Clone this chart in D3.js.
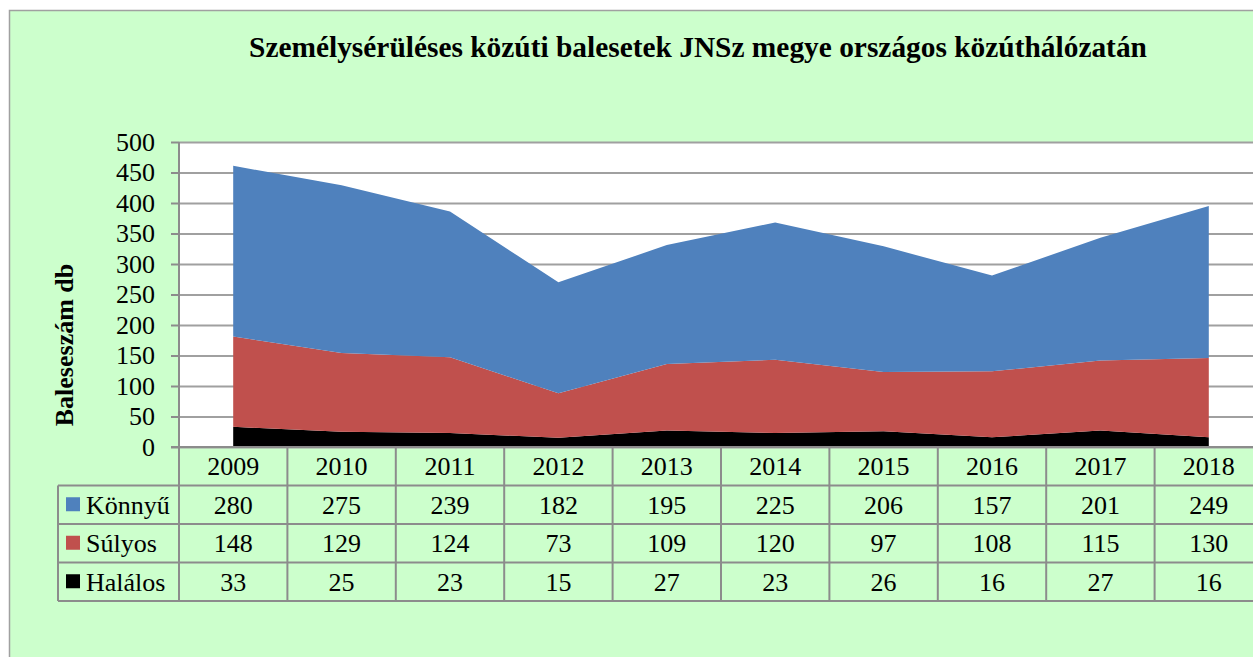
<!DOCTYPE html>
<html>
<head>
<meta charset="utf-8">
<script src="https://cdn.jsdelivr.net/npm/d3@7"></script>
<style>
  body { margin: 0; background: #ffffff; }
  svg text { font-family: "Liberation Serif", "Times New Roman", serif; }
</style>
</head>
<body>
<svg id="chart"></svg>
<script>
// data
var years = ["2009", "2010", "2011", "2012", "2013", "2014", "2015", "2016", "2017", "2018"];
var konnyu = [280, 275, 239, 182, 195, 225, 206, 157, 201, 249];
var sulyos = [148, 129, 124, 73, 109, 120, 97, 108, 115, 130];
var halalos = [33, 25, 23, 15, 27, 23, 26, 16, 27, 16];
var seriesNames = ["Könnyű", "Súlyos", "Halálos"];
var yTicks = [0, 50, 100, 150, 200, 250, 300, 350, 400, 450, 500];

var titleText = "Személysérüléses közúti balesetek JNSz megye országos közúthálózatán";
var yTitle = "Baleseszám db";

//sizes in one place so they are easy to tweak
var screen = {width: 1253, height: 657}
var plot = {left: 179, top: 142, bottom: 447, colW: 108.4}
var rowH = 38.5
var legendLeft = 58
var colors = {"Könnyű": "#4F81BD", "Súlyos": "#C0504D", "Halálos": "#000000"}
var lineCol = "#8C8C8C"
var serif = "'Liberation Serif', 'Times New Roman', serif"

var svg = d3.select("#chart")
    .attr("width", screen.width)
    .attr("height", screen.height)

// frame
svg.append("rect")
    .attr("x", 9.5).attr("y", 10.5)
    .attr("width", 1300).attr("height", 700)
    .attr("fill", "#CCFFCC")
    .attr("stroke", "#A0A0A0")
    .attr("stroke-width", 1.5)

var plotRight = plot.left + years.length * plot.colW

var xScale = d3.scaleBand()
    .domain(years)
    .range([plot.left, plotRight])

var yScale = d3.scaleLinear()
    .domain([0, 500])
    .range([plot.bottom, plot.top])

// white plot area
svg.append("rect")
    .attr("x", plot.left).attr("y", plot.top)
    .attr("width", plotRight - plot.left)
    .attr("height", plot.bottom - plot.top)
    .attr("fill", "#ffffff")

// gridlines
var grid = svg.append("g")
    .attr("transform", "translate(" + plot.left + ",0)")
    .call(d3.axisLeft(yScale).tickValues(yTicks).tickSize(-(plotRight - plot.left)).tickFormat(""))
grid.select(".domain").remove()
grid.selectAll("line").attr("stroke", "#A0A0A0").attr("stroke-width", 2)

// stacked areas
var table = years.map(function(y, i) {
    return {year: y, "Könnyű": konnyu[i], "Súlyos": sulyos[i], "Halálos": halalos[i]}
})
var stack = d3.stack().keys(["Halálos", "Súlyos", "Könnyű"])
var layers = stack(table)

var area = d3.area()
    .x(function(d) { return xScale(d.data.year) + xScale.bandwidth() / 2 })
    .y0(function(d) { return yScale(d[0]) })
    .y1(function(d) { return yScale(d[1]) })

svg.append("g").selectAll("path")
    .data(layers)
    .enter()
    .append("path")
    .attr("d", area)
    .attr("fill", function(l) { return colors[l.key] })

// y axis: tick marks and labels
var yAxis = svg.append("g")
    .attr("transform", "translate(" + plot.left + ",0)")
    .call(d3.axisLeft(yScale).tickValues(yTicks).tickSize(8).tickPadding(16))
yAxis.attr("font-family", serif).attr("font-size", 26)
yAxis.select(".domain").remove()
yAxis.selectAll("line").attr("stroke", lineCol).attr("stroke-width", 2)
yAxis.selectAll("text")
    .attr("font-family", serif)
    .attr("font-size", 26)
    .attr("fill", "#000")

// y axis line
svg.append("line")
    .attr("x1", plot.left).attr("x2", plot.left)
    .attr("y1", plot.top).attr("y2", plot.bottom + 4 * rowH)
    .attr("stroke", lineCol).attr("stroke-width", 2)

// data table lines
var tableBottom = plot.bottom + 4 * rowH
var tg = svg.append("g").attr("stroke", lineCol).attr("stroke-width", 2)
tg.append("line")
    .attr("x1", plot.left - 8).attr("x2", screen.width + 20)
    .attr("y1", plot.bottom).attr("y2", plot.bottom)
d3.range(1, 5).forEach(function(r) {
    tg.append("line")
        .attr("x1", legendLeft).attr("x2", screen.width + 20)
        .attr("y1", plot.bottom + r * rowH).attr("y2", plot.bottom + r * rowH)
})
tg.append("line")
    .attr("x1", legendLeft).attr("x2", legendLeft)
    .attr("y1", plot.bottom + rowH).attr("y2", tableBottom)
years.forEach(function(y) {
    var x = xScale(y) + xScale.bandwidth()
    tg.append("line")
        .attr("x1", x).attr("x2", x)
        .attr("y1", plot.bottom).attr("y2", tableBottom)
})

// header row: years
svg.append("g").selectAll("text")
    .data(years)
    .enter()
    .append("text")
    .attr("x", function(y) { return xScale(y) + xScale.bandwidth() / 2 })
    .attr("y", plot.bottom + rowH / 2)
    .attr("dy", "0.35em")
    .attr("text-anchor", "middle")
    .attr("font-family", serif)
    .attr("font-size", 26)
    .text(function(y) { return y })

// value rows
var rowValues = [konnyu, sulyos, halalos]
rowValues.forEach(function(vals, r) {
    var cy = plot.bottom + (r + 1) * rowH + rowH / 2
    var row = svg.append("g")
    row.selectAll("text")
        .data(vals)
        .enter()
        .append("text")
        .attr("x", function(v, i) { return xScale(years[i]) + xScale.bandwidth() / 2 })
        .attr("y", cy)
        .attr("dy", "0.35em")
        .attr("text-anchor", "middle")
        .attr("font-family", serif)
        .attr("font-size", 26)
        .text(function(v) { return v })
    // legend key + name
    var name = seriesNames[r]
    row.append("rect")
        .attr("x", legendLeft + 8).attr("y", cy - 7.5)
        .attr("width", 14).attr("height", 14)
        .attr("fill", colors[name])
    row.append("text")
        .attr("x", legendLeft + 28)
        .attr("y", cy)
        .attr("dy", "0.35em")
        .attr("font-family", serif)
        .attr("font-size", 26)
        .text(name)
})

// title
svg.append("text")
    .attr("x", 698)
    .attr("y", 57)
    .attr("text-anchor", "middle")
    .attr("font-family", serif)
    .attr("font-weight", "bold")
    .attr("font-size", 29.4)
    .text(titleText)

// y title
svg.append("text")
    .attr("transform", "translate(73,345) rotate(-90)")
    .attr("text-anchor", "middle")
    .attr("font-family", serif)
    .attr("font-weight", "bold")
    .attr("font-size", 26)
    .text(yTitle)
</script>
</body>
</html>
